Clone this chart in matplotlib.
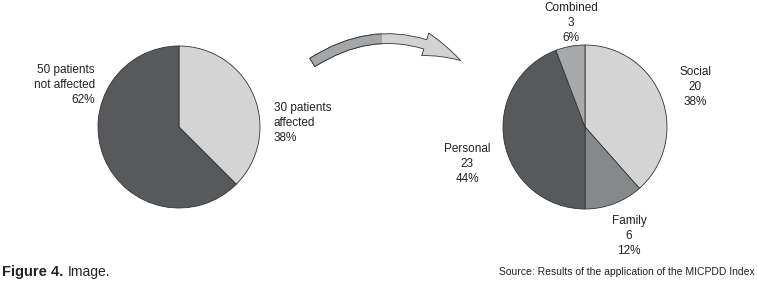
import matplotlib.pyplot as plt
from matplotlib.patches import FancyArrowPatch, Rectangle

W, H = 757, 289

# left pie: patients affected / not affected
left_labels = ["30 patients\naffected", "50 patients\nnot affected"]
left_values = [30, 50]
left_colors = ["#d4d4d5", "#58595b"]

# right pie: type of affectation among the affected patients
right_labels = ["Social", "Family", "Personal", "Combined"]
right_values = [20, 6, 23, 3]
right_colors = ["#d4d4d5", "#87888a", "#58595b", "#a7a8aa"]

plt.rcParams["font.family"] = ["Liberation Sans", "DejaVu Sans"]
fig = plt.figure(figsize=(W / 100, H / 100), dpi=100)


def fx(x):
    return x / W


def fy(y):
    return 1 - y / H


def pie_axes(cx, cy, r):
    ax = fig.add_axes([fx(cx - r), fy(cy + r), 2 * r / W, 2 * r / H])
    return ax


def finish(ax):
    ax.set_xlim(-1, 1)
    ax.set_ylim(-1, 1)
    ax.set_aspect("auto")
    ax.axis("off")


def pct(v, vals):
    return f"{round(100 * v / sum(vals))}%"


ax1 = pie_axes(179, 127, 81)
ax1.pie(left_values, colors=left_colors, startangle=90, counterclock=False,
        radius=1, wedgeprops=dict(edgecolor="#333333", linewidth=0.6))
finish(ax1)

ax2 = pie_axes(585, 127, 82)
ax2.pie(right_values, colors=right_colors, startangle=90, counterclock=False,
        radius=1, wedgeprops=dict(edgecolor="#333333", linewidth=0.6))
finish(ax2)

fs = 8.5
ls = 1.3
# left labels
fig.text(fx(274), fy(123), f"{left_labels[0]}\n{pct(left_values[0], left_values)}",
         ha="left", va="center", fontsize=fs, linespacing=ls, color="#222222")
fig.text(fx(95), fy(85), f"{left_labels[1]}\n{pct(left_values[1], left_values)}",
         ha="right", va="center", fontsize=fs, linespacing=ls, color="#222222",
         multialignment="right")

# right labels
right_pos = [(695, 87), (629, 236), (467, 164), (571, 23)]
for lab, v, (x, y) in zip(right_labels, right_values, right_pos):
    fig.text(fx(x), fy(y), f"{lab}\n{v}\n{pct(v, right_values)}",
             ha="center", va="center", fontsize=fs, linespacing=ls,
             multialignment="center", color="#222222")

# curved arrow between the pies, darker at the tail
for col, clip in [("#d2d2d3", None), ("#a5a6a8", 382)]:
    arr = FancyArrowPatch((fx(310), fy(64)), (fx(463), fy(62)),
                          transform=fig.transFigure,
                          connectionstyle="arc3,rad=-0.32",
                          arrowstyle="simple,tail_width=7,head_width=17,head_length=28",
                          mutation_scale=1, facecolor=col, edgecolor="#333333",
                          linewidth=0.6)
    fig.add_artist(arr)
    if clip is not None:
        rect = Rectangle((0, 0), fx(clip), 1, transform=fig.transFigure)
        arr.set_clip_path(rect)

# caption
fig.text(fx(2), fy(272), "Figure 4.", ha="left", va="center", fontsize=10.5,
         fontweight="bold", color="#222222")
fig.text(fx(68), fy(272), "Image.", ha="left", va="center", fontsize=10,
         color="#222222")
fig.text(fx(755), fy(272), "Source: Results of the application of the MICPDD Index",
         ha="right", va="center", fontsize=7.5, color="#222222")

fig.savefig("out.png", dpi=100)
